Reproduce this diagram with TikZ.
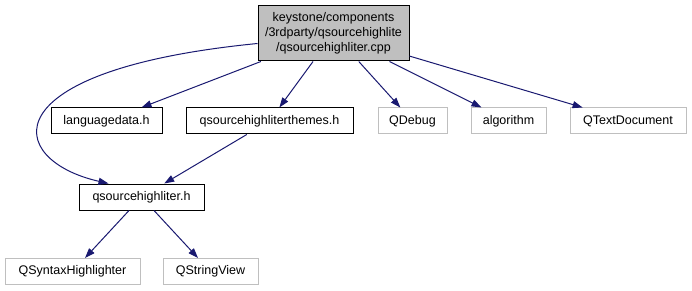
\documentclass[tikz,border=0pt]{standalone}
\usepackage{fontspec}
\setmainfont{Liberation Sans}
\usetikzlibrary{arrows.meta}
\definecolor{cnavy}{HTML}{191970}
\definecolor{cgrey}{HTML}{BFBFBF}
\tikzset{
  every picture/.style={x=1pt, y=-1pt, line width=1pt},
  box/.style={draw=#1, rectangle, align=center, inner sep=0pt, minimum height=26pt, font=\fontsize{12.5}{15}\selectfont},
  box/.default=black,
  arrow/.style={-{Triangle[length=10pt, width=7pt]}, draw=cnavy, line width=1pt},
}
\begin{document}
\begin{tikzpicture}
  \useasboundingbox (0,0) rectangle (692,291);
  \node[box=black, fill=cgrey, minimum width=151pt, minimum height=55pt] (root) at (333.5,33.5) {keystone/components\\/3rdparty/qsourcehighlite\\/qsourcehighliter.cpp};
  \node[box=black, minimum width=111pt] (lang) at (106.5,121) {languagedata.h};
  \node[box=black, minimum width=167pt] (themes) at (269.5,121) {qsourcehighliterthemes.h};
  \node[box=cgrey, minimum width=69pt] (qdebug) at (412.5,121) {QDebug};
  \node[box=cgrey, minimum width=75pt] (algo) at (508.5,121) {algorithm};
  \node[box=cgrey, minimum width=116pt] (qtextdoc) at (628,121) {QTextDocument};
  \node[box=black, minimum width=125pt] (qsh) at (141.5,197) {qsourcehighliter.h};
  \node[box=cgrey, minimum width=135pt] (qsyntax) at (72.5,271.5) {QSyntaxHighlighter};
  \node[box=cgrey, minimum width=95pt] (qstrview) at (210.5,271.5) {QStringView};
  \draw[arrow] ([yshift=-10pt]root.west) .. controls (-12,70) and (5,160) .. ([xshift=-33pt]qsh.north);
  \draw[arrow] (root) -- (lang);
  \draw[arrow] (root) -- (themes);
  \draw[arrow] (root) -- (qdebug);
  \draw[arrow] (root) -- (algo);
  \draw[arrow] (root) -- (qtextdoc);
  \draw[arrow] (themes) -- (qsh);
  \draw[arrow] (qsh) -- (qsyntax);
  \draw[arrow] (qsh) -- (qstrview);
\end{tikzpicture}
\end{document}
